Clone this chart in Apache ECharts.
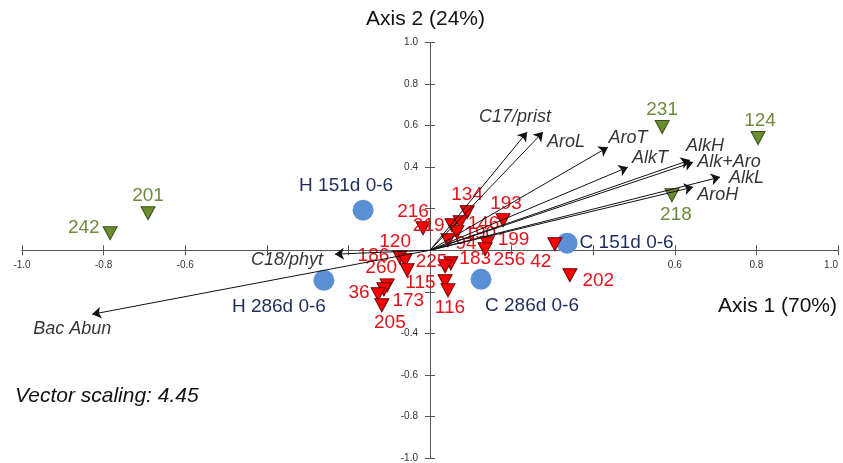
<!DOCTYPE html>
<html><head><meta charset="utf-8">
<script src="https://cdn.jsdelivr.net/npm/echarts@6/dist/echarts.min.js"></script>
<style>html,body{margin:0;padding:0;background:#fff}#c{width:843px;height:463px}</style>
</head><body><div id="c"></div>
<script>
// ---- data ----
const redNames = ['134','193','216','219','146','190','94','199','256','42','202','186','120','225','260','173','36','205','115','116','183',''];
const redX = [0.091,0.179,-0.017,0.054,0.074,0.066,0.044,0.140,0.135,0.306,0.343,-0.074,-0.061,-0.056,-0.105,-0.113,-0.127,-0.118,0.037,0.044,0.051,0.037];
const redY = [0.183,0.145,0.106,0.120,0.135,0.087,0.048,0.034,0.005,0.029,-0.120,-0.034,-0.048,-0.096,-0.169,-0.188,-0.212,-0.265,-0.149,-0.193,-0.063,-0.077];

const greenNames = ['242','201','231','124','218'];
const greenX = [-0.784,-0.691,0.569,0.804,0.593];
const greenY = [0.082,0.178,0.593,0.540,0.265];

const blueNames = ['H 151d 0-6','H 286d 0-6','C 151d 0-6','C 286d 0-6'];
const blueX = [-0.164,-0.260,0.336,0.125];
const blueY = [0.193,-0.145,0.034,-0.140];

const vecNames = ['C17/prist','AroL','AroT','AlkT','AlkH','Alk+Aro','AlkL','AroH','C18/phyt','Bac Abun'];
const vecX = [0.238,0.277,0.436,0.485,0.637,0.645,0.711,0.645,-0.233,-0.828];
const vecY = [0.569,0.569,0.496,0.400,0.434,0.424,0.352,0.304,-0.019,-0.308];

const axisMin = -1.0, axisMax = 1.0, axisStep = 0.2;
const axis1Title = 'Axis 1 (70%)', axis2Title = 'Axis 2 (24%)', note = 'Vector scaling: 4.45';

// ---- label layout (positions only) ----
const redLab = {
 '134':['top',[0,2]], '193':['top',[3,3]], '216':['top',[-10,3]], '219':['left',[3,0]],
 '146':['right',[-3,2]], '190':['right',[-3,2]], '94':['right',[-3,3]], '199':['right',[0,-3]],
 '256':['right',[-2,11]], '42':['bottom',[-14,-2]], '202':['right',[2,6]], '186':['left',[0,-2]],
 '120':['top',[-10,1]], '225':['right',[-2,-8]], '260':['top',[-6,2]], '173':['right',[-2,11]],
 '36':['left',[2,-2]], '205':['bottom',[8,-2]], '115':['left',[1,2]], '116':['bottom',[2,-2]],
 '183':['right',[-2,-5]], '':['right',[0,0]]
};
const greenLab = {'242':['left',[0,-5]],'201':['top',[0,2]],'231':['top',[0,2]],'124':['top',[2,2]],'218':['bottom',[4,0]]};
const blueLab = {'H 151d 0-6':['top',[-17,0]],'H 286d 0-6':['bottom',[-45,2]],'C 151d 0-6':['right',[-2,0]],'C 286d 0-6':['bottom',[51,2]]};
const vecLab = {'C17/prist':['top',[-12,-2]],'AroL':['right',[0,10]],'AroT':['top',[20,4]],'AlkT':['right',[0,-9]],
 'AlkH':['top',[15,-1]],'Alk+Aro':['right',[0,0]],'AlkL':['right',[5,1]],'AroH':['right',[0,8]],
 'C18/phyt':['left',[-8,6]],'Bac Abun':['bottom',[-20,2]]};

const FONT = 'Liberation Sans, Arial, sans-serif';

function pts(names, xs, ys, lab) {
  return names.map((n,i)=>({name:n, value:[xs[i], ys[i]], label:{position:lab[n][0], offset:lab[n][1]}}));
}

const W = 843, H = 463;
const G = {left:22, right:5, top:42.5, bottom:5};
const gw = W - G.left - G.right, gh = H - G.top - G.bottom;
// shift axes from grid edge onto the zero crossing
const xOff = -gh * (0 - axisMin) / (axisMax - axisMin);
const yOff = -gw * (0 - axisMin) / (axisMax - axisMin);

function xAx(inside, labels) {
  return {type:'value', position:'bottom', offset:xOff, min:axisMin, max:axisMax, interval:axisStep,
    axisLine:{show:!inside, onZero:false, lineStyle:{color:'#555', width:1}},
    axisTick:{show:true, inside:inside, length:5, lineStyle:{color:'#555'}},
    axisLabel:{show:labels, fontSize:10, color:'#333', fontFamily:FONT, margin:10, alignMaxLabel:'right',
      formatter:v=>Math.abs(v)<0.5?'':v.toFixed(1)},
    splitLine:{show:false}};
}
function yAx(inside, labels) {
  return {type:'value', position:'left', offset:yOff, min:axisMin, max:axisMax, interval:axisStep,
    axisLine:{show:!inside, onZero:false, lineStyle:{color:'#555', width:1}},
    axisTick:{show:true, inside:inside, length:5, lineStyle:{color:'#555'}},
    axisLabel:{show:labels, fontSize:10, color:'#333', fontFamily:FONT, margin:12,
      formatter:v=>Math.abs(v)<0.3?'':v.toFixed(1)},
    splitLine:{show:false}};
}

const chart = echarts.init(document.getElementById('c'));
chart.setOption({
  animation:false,
  grid:Object.assign({containLabel:false, outerBoundsMode:'none'}, G),
  xAxis:[xAx(false,true), xAx(true,false)],
  yAxis:[yAx(false,true), yAx(true,false)],
  graphic:[
    {type:'text', left:366, top:9, style:{text:axis2Title, font:'21px '+FONT, fill:'#111'}},
    {type:'text', left:718, top:296, style:{text:axis1Title, font:'21px '+FONT, fill:'#111'}},
    {type:'text', left:15, top:386, style:{text:note, font:'italic 21px '+FONT, fill:'#111'}}
  ],
  series:[
    {type:'scatter', name:'green', z:3, data:pts(greenNames, greenX, greenY, greenLab),
      symbol:'triangle', symbolRotate:180, symbolSize:[14,13],
      itemStyle:{color:'#6b8c2f', borderColor:'#3d5218', borderWidth:1, opacity:1},
      label:{show:true, formatter:'{b}', fontSize:19, color:'#6e8a3e', fontFamily:FONT, distance:3}},
    {type:'scatter', name:'blue', z:3, data:pts(blueNames, blueX, blueY, blueLab),
      symbol:'circle', symbolSize:21,
      itemStyle:{color:'#5a8fd6', opacity:1},
      label:{show:true, formatter:'{b}', fontSize:19, color:'#1f2d5c', fontFamily:FONT, distance:4}},
    {type:'scatter', name:'red', z:4, data:pts(redNames, redX, redY, redLab),
      symbol:'triangle', symbolRotate:180, symbolSize:[14,13],
      itemStyle:{color:'#ff0000', borderColor:'#6b0000', borderWidth:1, opacity:1},
      label:{show:true, formatter:'{b}', fontSize:19, color:'#e3131b', fontFamily:FONT, distance:3}},
    {type:'lines', coordinateSystem:'cartesian2d', z:5, polyline:false,
      data:vecNames.map((n,i)=>({name:n, coords:[[0,0],[vecX[i],vecY[i]]]})),
      symbol:['none','arrow'], symbolSize:[0,9],
      lineStyle:{color:'#111', width:1, opacity:1}},
    {type:'scatter', name:'veclab', z:6, data:pts(vecNames, vecX, vecY, vecLab),
      symbolSize:0, silent:true,
      label:{show:true, formatter:'{b}', fontSize:18, fontStyle:'italic', color:'#000', fontFamily:FONT, distance:4}}
  ]
});
</script></body></html>
